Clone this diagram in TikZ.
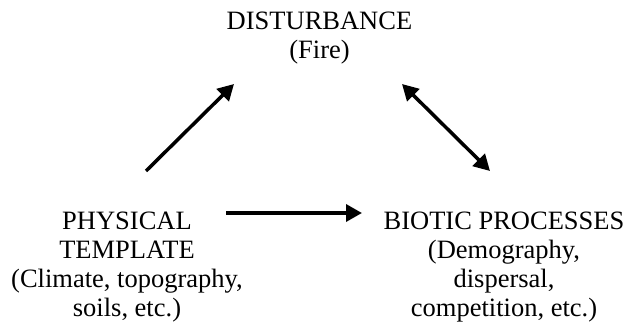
\documentclass[tikz,border=0pt]{standalone}
\usepackage{fontspec}
\setmainfont{Liberation Serif}
\usetikzlibrary{arrows.meta}

\begin{document}
\begin{tikzpicture}[x=1pt,y=1pt,
  lbl/.style={align=center,anchor=north,inner sep=0pt,font=\fontsize{26.5}{29}\selectfont},
  arr/.style={line width=3.5pt,-{Triangle[length=16pt,width=17pt]}},
  darr/.style={line width=3.5pt,{Triangle[length=16pt,width=17pt]}-{Triangle[length=16pt,width=17pt]}}]
\useasboundingbox (0,0) rectangle (636,332);

% Labels
\node[lbl] (dist) at (319.5,320.5) {DISTURBANCE\\(Fire)};
\node[lbl] (phys) at (127,120.5) {PHYSICAL\\TEMPLATE\\(Climate, topography,\\soils, etc.)};
\node[lbl] (bio) at (504,120.5) {BIOTIC PROCESSES\\(Demography,\\dispersal,\\competition, etc.)};

% Arrows
\draw[arr] ([shift={(19,40.5)}]phys.north) -- ([shift={(-85.5,-72.5)}]dist.north);
\draw[darr] ([shift={(82.5,-72.5)}]dist.north) -- ([shift={(-14,40.5)}]bio.north);
\draw[arr] ([shift={(99,-1.5)}]phys.north) -- ([shift={(-142,-1.5)}]bio.north);
\end{tikzpicture}
\end{document}
